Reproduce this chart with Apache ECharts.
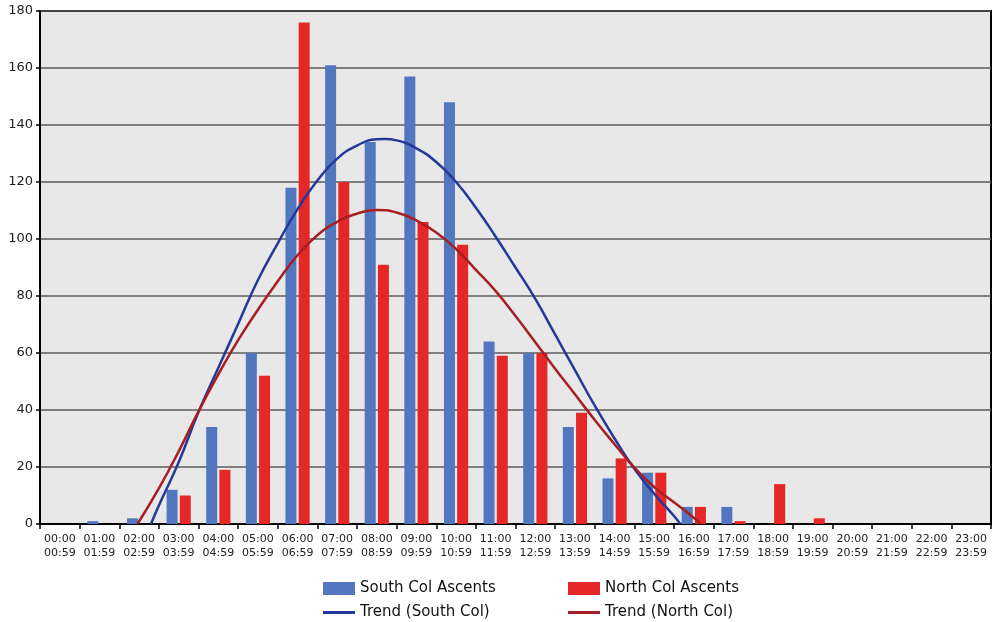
<!DOCTYPE html>
<html>
<head>
<meta charset="utf-8">
<script src="https://cdn.jsdelivr.net/npm/echarts@6/dist/echarts.min.js"></script>
<style>
html,body{margin:0;padding:0;background:#fff;}
#c{width:994px;height:622px;}
</style>
</head>
<body>
<div id="c"></div>
<script>
const categories = ['00:00\n00:59','01:00\n01:59','02:00\n02:59','03:00\n03:59','04:00\n04:59','05:00\n05:59',
  '06:00\n06:59','07:00\n07:59','08:00\n08:59','09:00\n09:59','10:00\n10:59','11:00\n11:59',
  '12:00\n12:59','13:00\n13:59','14:00\n14:59','15:00\n15:59','16:00\n16:59','17:00\n17:59',
  '18:00\n18:59','19:00\n19:59','20:00\n20:59','21:00\n21:59','22:00\n22:59','23:00\n23:59'];
const southCol = [0,1,2,12,34,60,118,161,134,157,148,64,60,34,16,18,6,6,0,0,0,0,0,0];
const northCol = [0,0,0,10,19,52,176,120,91,106,98,59,60,39,23,18,6,1,14,2,0,0,0,0];
// trend curves: [hour-slot position, value]
const trendSouth = [[2.30,0],[2.5,6.5],[3.0,21.7],[3.5,39.3],[4.0,54.8],[4.5,70.2],[5.0,85.6],[5.5,98.5],
  [6.0,110.5],[6.5,120.5],[7.0,128.2],[7.5,132.8],[8.0,135],[8.2,135.1],[8.5,134.6],[9.0,131.8],
  [9.5,127],[10.0,120],[10.5,111],[11.0,100.8],[11.5,90],[12.0,79],[12.5,66.5],[13.0,54],[13.5,41.5],
  [14.0,30],[14.5,19.4],[15.0,10.6],[15.5,2.8],[15.66,0]];
const trendNorth = [[1.96,0],[2.5,12.5],[3.0,25.5],[3.5,39.5],[4.0,52.5],[4.5,64.5],[5.0,75.2],[5.5,85.2],
  [6.0,94.3],[6.5,101.3],[7.0,106],[7.5,108.9],[8.0,110.2],[8.5,109.3],[9.0,106.5],[9.5,102.3],
  [10.0,96.5],[10.5,89.2],[11.0,81.7],[11.5,73],[12.0,63.8],[12.5,54.5],[13.0,45.5],[13.5,36.5],
  [14.0,28],[14.5,19.8],[15.0,13],[15.5,7.6],[16.0,2.2],[16.17,0]];
const yTicks = {min:0, max:180, interval:20};

const chart = echarts.init(document.getElementById('c'), null, {renderer:'canvas'});
const font = 'DejaVu Sans, Verdana, sans-serif';
const lineIcon = 'path://M0,0H32V3H0Z';
function leg(name, icon, left, top){
  return {show:true, orient:'horizontal', left:left, top:top, itemWidth:32, itemHeight:13, padding:0,
    textStyle:{fontSize:15,color:'#111',fontFamily:font}, data:[{name:name,icon:icon}]};
}
chart.setOption({
  animation:false,
  backgroundColor:'#ffffff',
  textStyle:{fontFamily:font},
  grid:{left:40,right:3,top:11,bottom:98,show:true,backgroundColor:'#e8e8e8',borderColor:'#000',borderWidth:2},
  legend:[
    leg('South Col Ascents','rect',323,581),
    leg('Trend (South Col)',lineIcon,323,605),
    leg('North Col Ascents','rect',568,581),
    leg('Trend (North Col)',lineIcon,568,605)
  ],
  xAxis:[{
    type:'category', data:categories, boundaryGap:true,
    axisLine:{onZero:false,lineStyle:{color:'#000',width:2}},
    axisTick:{show:true,length:5,lineStyle:{color:'#000',width:1.5}},
    axisLabel:{fontSize:11,color:'#222',lineHeight:14,margin:8,fontFamily:font,interval:0},
    splitLine:{show:false}
  },{
    type:'value', min:-0.5, max:23.5, show:false
  }],
  yAxis:{
    type:'value', min:yTicks.min, max:yTicks.max, interval:yTicks.interval,
    axisLine:{show:true,onZero:false,lineStyle:{color:'#000',width:2}},
    axisTick:{show:true,length:4,lineStyle:{color:'#000',width:1.5}},
    axisLabel:{fontSize:13,color:'#222',margin:7,fontFamily:font},
    splitLine:{show:true,lineStyle:{color:'#5c5c5c',width:1.5}}
  },
  series:[
    {name:'South Col Ascents',type:'bar',data:southCol,barWidth:11,barGap:'20%',itemStyle:{color:'#5277be'},z:2},
    {name:'North Col Ascents',type:'bar',data:northCol,barWidth:11,barGap:'20%',itemStyle:{color:'#e62727'},z:2},
    {name:'Trend (South Col)',type:'line',xAxisIndex:1,data:trendSouth,smooth:0.5,symbol:'none',
      lineStyle:{color:'#24389a',width:2.5},itemStyle:{color:'#24389a'},z:5},
    {name:'Trend (North Col)',type:'line',xAxisIndex:1,data:trendNorth,smooth:0.5,symbol:'none',
      lineStyle:{color:'#a81e22',width:2.5},itemStyle:{color:'#a81e22'},z:5}
  ]
});
</script>
</body>
</html>
